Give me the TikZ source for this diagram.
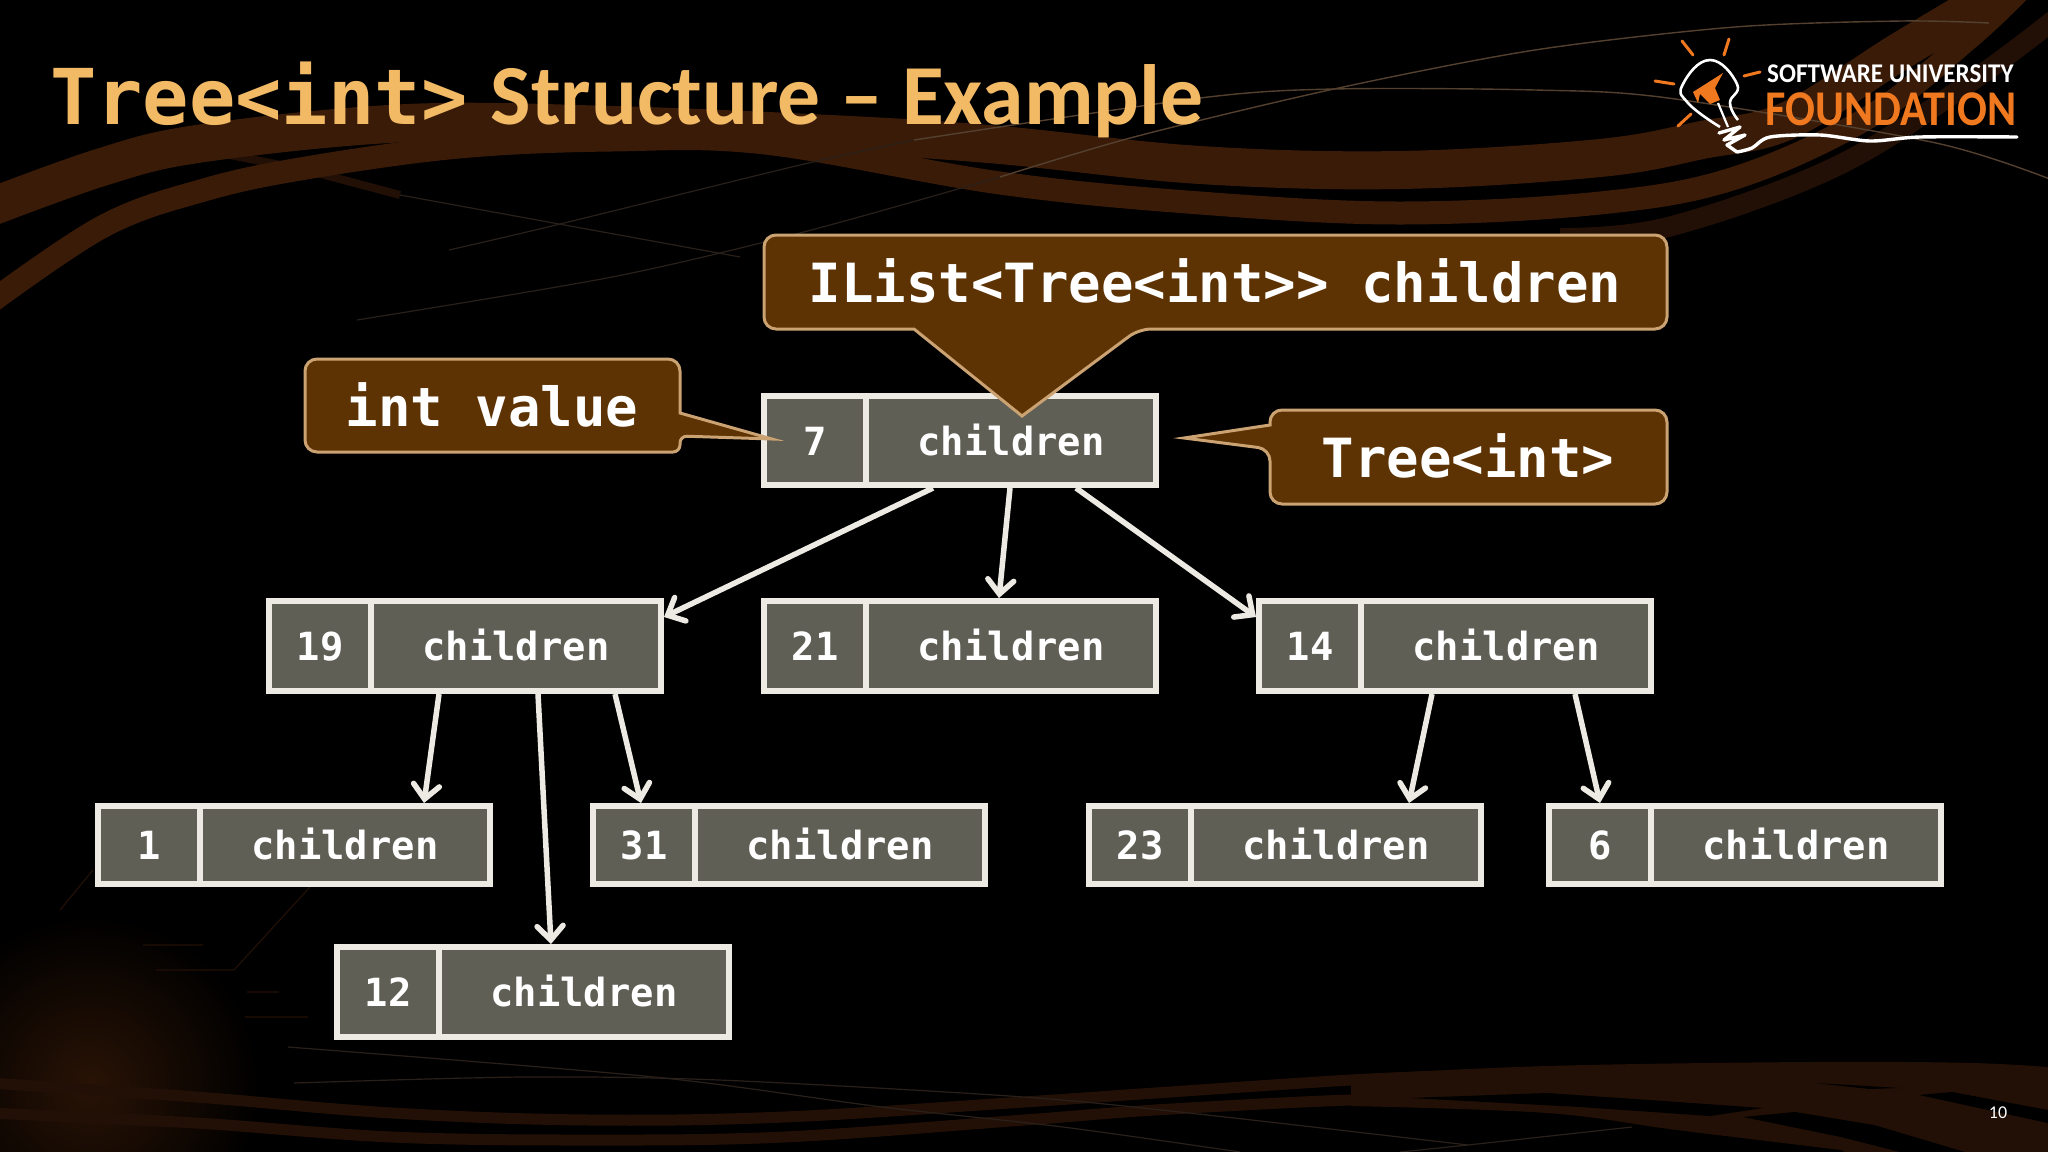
\documentclass[tikz,border=0pt]{standalone}
\usepackage{xcolor}
\usepackage{fontspec}
\setmainfont{Carlito}
\newfontfamily\codefont{DejaVu Sans Mono}
\newfontfamily\logofont{Carlito}[FakeStretch=0.93]
\newfontfamily\logobigfont{Carlito}[FakeStretch=0.885]
\usetikzlibrary{arrows.meta,positioning}
\definecolor{slidegold}{HTML}{F3BA66}
\definecolor{boxgray}{HTML}{5F5F55}
\definecolor{boxline}{HTML}{ECEAE3}
\definecolor{noteBrown}{HTML}{5E3304}
\definecolor{noteline}{HTML}{CBA272}
\definecolor{swoosh}{HTML}{3A1B08}
\definecolor{swooshdim}{HTML}{221006}
\definecolor{hairline}{HTML}{54402E}
\definecolor{hairdim}{HTML}{2A201A}
\definecolor{logoorange}{HTML}{F0791F}

\begin{document}
\begin{tikzpicture}[
  x=1pt, y=-1pt,
  valuebox/.style={rectangle, draw=boxline, fill=boxgray, line width=6pt,
               minimum width=102pt, minimum height=#1, text=white,
               text height=29pt, text depth=0pt,
               font=\codefont\bfseries\fontsize{38.8}{40}\selectfont},
  childbox/.style={valuebox=#1, minimum width=290pt},
  link/.style={-{Straight Barb[length=14pt, width=26pt, line cap=round]}, line width=5.5pt, boxline},
  notebox/.style={draw=noteline, fill=noteBrown, line width=3pt},
  notetext/.style={anchor=base, text=white, inner sep=0pt,
               font=\codefont\bfseries\fontsize{54}{56}\selectfont},
  band/.style={line width=#1, swoosh, line cap=butt},
  dimband/.style={line width=#1, swooshdim, line cap=butt},
  hair/.style={line width=1.4pt, hairline},
  faint/.style={line width=1.2pt, hairdim},
  ray/.style={line width=3pt, logoorange, line cap=round},
]
\useasboundingbox (0,0) rectangle (2048,1151.5);
\clip (-6,-6) rectangle (2054,1160);

% Background
\fill[black] (-6,-6) rectangle (2054,1160);
\shade[inner color=swoosh!70!black, outer color=black] (90,1085) circle (170);
\draw[line width=1.2pt, swooshdim] (143,945) -- (203,945) (156,970) -- (234,970) -- (310,887) (247,992) -- (279,992) (245,1017) -- (308,1017) (60,910) -- (93,870);
\draw[dimband=8pt] (230,155) -- (306,170) -- (400,195);
\draw[faint] (400,195) -- (740,257);
\draw[band=38pt] plot[smooth, tension=.6] coordinates {(-30,215) (102,167) (204,143) (408,123) (612,125) (850,135) (1000,145) (1200,165) (1400,170) (1600,158) (1702,140) (1789,120) (1902,50) (2003,-10)};
\draw[band=23pt] plot[smooth, tension=.6] coordinates {(-20,310) (102,227) (204,190) (306,168) (459,147) (612,140) (765,143) (1000,183) (1200,203) (1400,213) (1600,203) (1735,178) (1869,117) (1969,38) (2020,-10)};
\draw[dimband=20pt] plot[smooth, tension=.6] coordinates {(1560,238) (1668,227) (1835,167) (1969,83) (2060,15)};
\draw[faint] plot[smooth] coordinates {(449,250) (556,225) (800,165) (914,140)};
\draw[hair] plot[smooth] coordinates {(914,140) (1200,98) (1334,89) (1535,90) (1668,98) (1936,143) (2060,183)};
\draw[faint] plot[smooth] coordinates {(357,320) (612,277) (800,233) (1000,177)};
\draw[hair] plot[smooth] coordinates {(1000,177) (1134,137) (1334,89) (1535,50) (1735,27) (1902,21) (1989,23)};

\draw[dimband=11pt] plot[smooth, tension=.6] coordinates {(-10,1083) (196,1097) (392,1113) (588,1120) (784,1117) (1024,1102) (1155,1093) (1351,1080) (1450,1076)};
\draw[dimband=11pt] plot[smooth, tension=.6] coordinates {(-10,1113) (196,1123) (392,1137) (588,1140) (784,1137) (1024,1120) (1155,1110) (1351,1100) (1450,1101)};
\fill[swooshdim] plot[smooth, tension=.6] coordinates {(1351,1075) (1547,1066) (1808,1062) (1972,1063) (2060,1068)} -- (2060,1160) -- (1860,1160) -- plot[smooth, tension=.6] coordinates {(1841,1150) (1677,1130) (1547,1113) (1351,1106)} -- cycle;
\fill[black] (1410,1098) -- (1547,1093) -- (1678,1102) -- (1763,1108) -- (1710,1116) -- (1580,1107) -- cycle;
\fill[black] (1743,1117) -- (1795,1112) -- (1874,1125) -- (1965,1152) -- (1900,1152) -- (1841,1137) -- cycle;
\fill[black] (1919,1095) -- (1952,1092) -- (2048,1110) -- (2048,1123) -- cycle;
\fill[black] (1815,1083) -- (1900,1088) -- (1870,1089) -- cycle;
\draw[faint] plot[smooth] coordinates {(294,1083) (523,1077) (719,1080) (1024,1097) (1207,1115) (1468,1145)};
\draw[faint] plot[smooth] coordinates {(288,1047) (654,1077) (882,1107) (1063,1127) (1240,1152)};
\draw[faint] (1400,1152) -- (1468,1145) -- (1632,1127);

% Title
\node[anchor=base west, inner sep=0pt, text=slidegold, font=\bfseries\fontsize{85.5}{88}\selectfont] (title) at (50,124)
  {{\codefont\fontsize{77}{80}\selectfont Tree<int>}\hspace{4pt} Structure – Example};

% Logo
\node[anchor=base west, inner sep=0pt, text=white, font=\logofont\bfseries\fontsize{27}{28}\selectfont] (logotop) at (1767,82) {SOFTWARE UNIVERSITY};
\node[anchor=base west, inner sep=0pt, text=logoorange, font=\logobigfont\bfseries\fontsize{50}{52}\selectfont] (logomain) at (1765,125) {FOUNDATION};
\draw[ray] (1682,41) -- (1693,55);
\draw[ray] (1729,39) -- (1724,55);
\draw[ray] (1744,76) -- (1760,72);
\draw[ray] (1655,81) -- (1674,84);
\draw[ray] (1678,126) -- (1691,114);
\draw[white, line width=2.6pt, line join=round] plot[smooth, tension=.8] coordinates {(1738,120) (1730,103) (1737,84) (1710,60) (1683,84) (1688,103) (1720,127)};
\draw[white, line width=2.2pt] (1718,103) -- (1728,127);
\draw[white, line width=3.4pt, line join=round, line cap=round] (1719,133) -- (1740,127) -- (1724,140) -- (1745,135) -- (1727,145) -- (1737,152) plot[smooth] coordinates {(1737,152) (1752,148) (1770,137) (1820,135) (1870,141) (1920,137) (2017,137)};
\fill[logoorange] (1693,92) -- (1723,73) -- (1715,88) -- (1720,100) -- (1710,104) -- (1700,94) -- (1698,103) -- cycle;

% Tree nodes
\node[valuebox=89pt] (v7) at (815,440.5) {7};
\node[childbox=89pt, right=-6pt of v7] (c7) {children};

\node[valuebox=90pt] (v19) at (320,646) {19};
\node[childbox=90pt, right=-6pt of v19] (c19) {children};
\node[valuebox=90pt] (v21) at (815,646) {21};
\node[childbox=90pt, right=-6pt of v21] (c21) {children};
\node[valuebox=90pt] (v14) at (1310,646) {14};
\node[childbox=90pt, right=-6pt of v14] (c14) {children};

\node[valuebox=78pt] (v1) at (149,845) {1};
\node[childbox=78pt, right=-6pt of v1] (c1) {children};
\node[valuebox=78pt] (v31) at (644,845) {31};
\node[childbox=78pt, right=-6pt of v31] (c31) {children};
\node[valuebox=78pt] (v23) at (1140,845) {23};
\node[childbox=78pt, right=-6pt of v23] (c23) {children};
\node[valuebox=78pt] (v6) at (1600,845) {6};
\node[childbox=78pt, right=-6pt of v6] (c6) {children};

\node[valuebox=90pt] (v12) at (388,992) {12};
\node[childbox=90pt, right=-6pt of v12] (c12) {children};

% Arrows
\draw[link] ([xshift=-78pt]c7.south) -- ([yshift=29pt]c19.east);
\draw[link] ([xshift=-1pt]c7.south) -- ([xshift=-12pt]c21.north);
\draw[link] ([xshift=65pt]c7.south) -- ([yshift=29pt]v14.west);
\draw[link] ([xshift=-77pt]c19.south) -- ([xshift=79pt]c1.north);
\draw[link] ([xshift=22pt]c19.south) -- ([xshift=-33pt]c12.north);
\draw[link] ([xshift=99pt]c19.south) -- ([xshift=-3pt]v31.north);
\draw[link] ([xshift=-74pt]c14.south) -- ([xshift=73pt]c23.north);
\draw[link] ([xshift=69pt]c14.south) -- (v6.north);

% Callouts
\draw[notebox] (914,329) [rounded corners=12pt] -- (764,329) -- (764,235) -- (1667,235) -- (1667,329) -- (1139,329) [sharp corners] -- (1022,416) -- cycle;
\node[notetext] (childrennote) at (1215,302) {IList<Tree<int>{}> children};

\draw[notebox] (680,413) [rounded corners=12pt] -- (680,359) -- (305,359) -- (305,452) -- (400,452) [rounded corners=7pt] -- (680,452) -- (680,436) [sharp corners] -- (772,439) -- cycle;
\node[notetext] (valuenote) at (492,426) {int value};

\draw[notebox] (1270,425) [rounded corners=12pt] -- (1270,410) -- (1667,410) -- (1667,504) -- (1270,504) -- (1270,449) [sharp corners] -- (1184,438) -- cycle;
\node[notetext] (treenote) at (1468,477) {Tree<int>};

% Slide number
\node[text=white, inner sep=0pt, font=\fontsize{18}{20}\selectfont] (pagenum) at (1998,1113) {10};

\end{tikzpicture}
\end{document}
